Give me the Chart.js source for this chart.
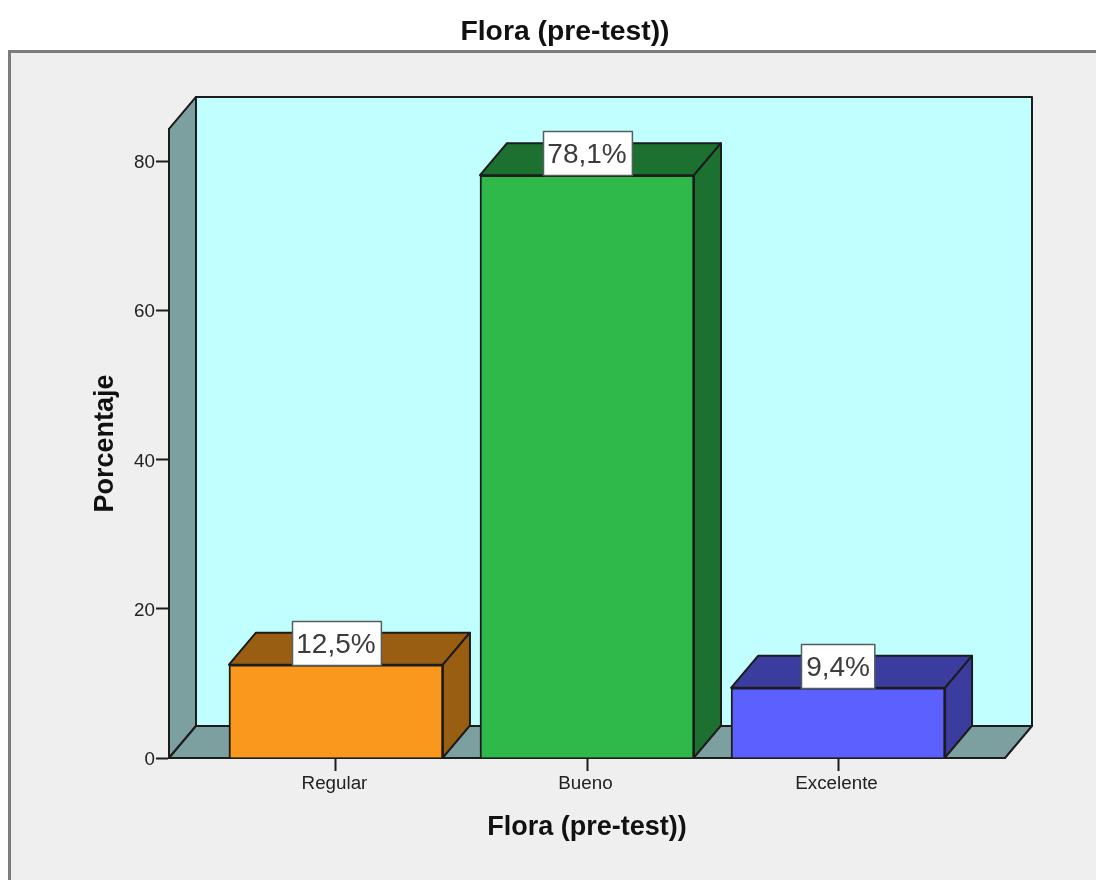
<!DOCTYPE html>
<html lang="es">
<head>
<meta charset="utf-8">
<title>Flora (pre-test))</title>
<script src="https://cdn.jsdelivr.net/npm/chart.js@4"></script>
<style>
  html, body { margin: 0; padding: 0; background: #fff; overflow: hidden; }
  canvas { display: block; }
</style>
</head>
<body>
<canvas id="chart" width="1096" height="880"></canvas>
<script>
const chartTitle = 'Flora (pre-test))';
const xAxisTitle = 'Flora (pre-test))';
const yAxisTitle = 'Porcentaje';
const categories = ['Regular', 'Bueno', 'Excelente'];
const percentages = [12.5, 78.1, 9.4];
const yTickValues = [0, 20, 40, 60, 80];
const frontColors = ['#fa981e', '#2fb94b', '#5b60ff'];
const shadeColors = ['#9a5e12', '#1c7030', '#3a3c9e'];

const FONT = '"Liberation Sans", Arial, sans-serif';
const INK = '#1c1c1c';
const DEPTH_X = 27;
const DEPTH_Y = 32;

function poly(ctx, pts, fill, stroke, width) {
  ctx.beginPath();
  pts.forEach((p, i) => i ? ctx.lineTo(p[0], p[1]) : ctx.moveTo(p[0], p[1]));
  ctx.closePath();
  ctx.fillStyle = fill;
  ctx.fill();
  ctx.lineWidth = width;
  ctx.lineJoin = 'round';
  ctx.strokeStyle = stroke;
  ctx.stroke();
}

// Grey panel plus the back wall, side wall and floor of the 3D box.
const backdrop = {
  id: 'backdrop',
  afterLayout(chart) {
    // The heading sits right of the plot's midpoint.
    chart.titleBlock.left += 62.5;
    chart.titleBlock.right += 62.5;
  },
  beforeDraw(chart) {
    const { ctx, chartArea: a } = chart;
    ctx.save();
    ctx.fillStyle = '#efefef';
    ctx.fillRect(9, 51, 1100, 840);
    ctx.strokeStyle = '#7c7c7c';
    ctx.lineWidth = 3;
    ctx.strokeRect(9.5, 51.5, 1200, 1000);

    const wall = '#7c9f9f';
    poly(ctx, [[a.left + DEPTH_X, a.top - DEPTH_Y], [a.right + DEPTH_X, a.top - DEPTH_Y],
               [a.right + DEPTH_X, a.bottom - DEPTH_Y], [a.left + DEPTH_X, a.bottom - DEPTH_Y]],
         '#c1ffff', INK, 2);
    poly(ctx, [[a.left, a.top], [a.left + DEPTH_X, a.top - DEPTH_Y],
               [a.left + DEPTH_X, a.bottom - DEPTH_Y], [a.left, a.bottom]],
         wall, INK, 2);
    poly(ctx, [[a.left, a.bottom], [a.right, a.bottom],
               [a.right + DEPTH_X, a.bottom - DEPTH_Y], [a.left + DEPTH_X, a.bottom - DEPTH_Y]],
         wall, INK, 2);
    ctx.restore();
  }
};

// Top and side faces of each bar, then its boxed value label.
const extrusion = {
  id: 'extrusion',
  afterDatasetsDraw(chart) {
    const { ctx } = chart;
    const bars = chart.getDatasetMeta(0).data;
    ctx.save();
    bars.forEach((bar, i) => {
      const l = bar.x - bar.width / 2;
      const r = bar.x + bar.width / 2;
      const t = bar.y;
      const b = bar.base;
      poly(ctx, [[l, t], [r, t], [r + DEPTH_X, t - DEPTH_Y], [l + DEPTH_X, t - DEPTH_Y]],
           shadeColors[i], INK, 2);
      poly(ctx, [[r, t], [r + DEPTH_X, t - DEPTH_Y], [r + DEPTH_X, b - DEPTH_Y], [r, b]],
           shadeColors[i], INK, 2);
    });
    ctx.font = '28px ' + FONT;
    ctx.textAlign = 'center';
    ctx.textBaseline = 'middle';
    bars.forEach((bar, i) => {
      const text = percentages[i].toFixed(1).replace('.', ',') + '%';
      const w = ctx.measureText(text).width + 9.5;
      const h = 44;
      const x = Math.round(bar.x - w / 2) + 0.5;
      const y = Math.round(bar.y - h) + 0.5;
      ctx.fillStyle = '#ffffff';
      ctx.fillRect(x, y, w, h);
      ctx.strokeStyle = '#555e5e';
      ctx.lineWidth = 1.5;
      ctx.strokeRect(x, y, w, h);
      ctx.fillStyle = '#3c3c3c';
      ctx.fillText(text, bar.x, y + h / 2 + 2);
    });
    ctx.restore();
  }
};

new Chart(document.getElementById('chart'), {
  type: 'bar',
  data: {
    labels: categories,
    datasets: [{
      data: percentages,
      backgroundColor: frontColors,
      borderColor: INK,
      borderWidth: 2,
      barThickness: 214
    }]
  },
  plugins: [backdrop, extrusion],
  options: {
    responsive: false,
    animation: false,
    events: [],
    layout: { padding: { left: 0, right: 91, top: 0, bottom: 0 } },
    plugins: {
      legend: { display: false },
      tooltip: { enabled: false },
      title: {
        display: true,
        text: chartTitle,
        color: '#111',
        font: { family: FONT, size: 28.3, weight: 'bold' },
        padding: { top: 15, bottom: 80 }
      }
    },
    scales: {
      x: {
        type: 'category',
        // Leaves the same spare width on both sides of the three categories.
        afterBuildTicks(scale) { scale._startValue = -0.665; scale._valueRange = 3.33; },
        afterFit(scale) { scale.height = 122; },
        grid: { drawOnChartArea: false, offset: false, tickLength: 13, tickWidth: 2, tickColor: INK },
        border: { color: INK, width: 2 },
        ticks: { color: '#222', padding: 2, labelOffset: -1.5, maxRotation: 0, font: { family: FONT, size: 18.8 } },
        title: {
          display: true,
          text: xAxisTitle,
          color: '#111',
          font: { family: FONT, size: 27, weight: 'bold' },
          padding: { top: 0, bottom: 35.8 }
        }
      },
      y: {
        min: 0,
        max: 84.3,
        afterBuildTicks(scale) { scale.ticks = yTickValues.map(value => ({ value })); },
        afterFit(scale) { scale.width = 169; },
        grid: { drawOnChartArea: false, tickLength: 13, tickWidth: 2, tickColor: INK },
        border: { color: INK, width: 2 },
        ticks: { color: '#222', padding: 1, labelOffset: 2, font: { family: FONT, size: 18.8 } },
        title: {
          display: true,
          text: yAxisTitle,
          color: '#111',
          font: { family: FONT, size: 27, weight: 'bold' },
          padding: { top: 89.3, bottom: 0 }
        }
      }
    }
  }
});
</script>
</body>
</html>
